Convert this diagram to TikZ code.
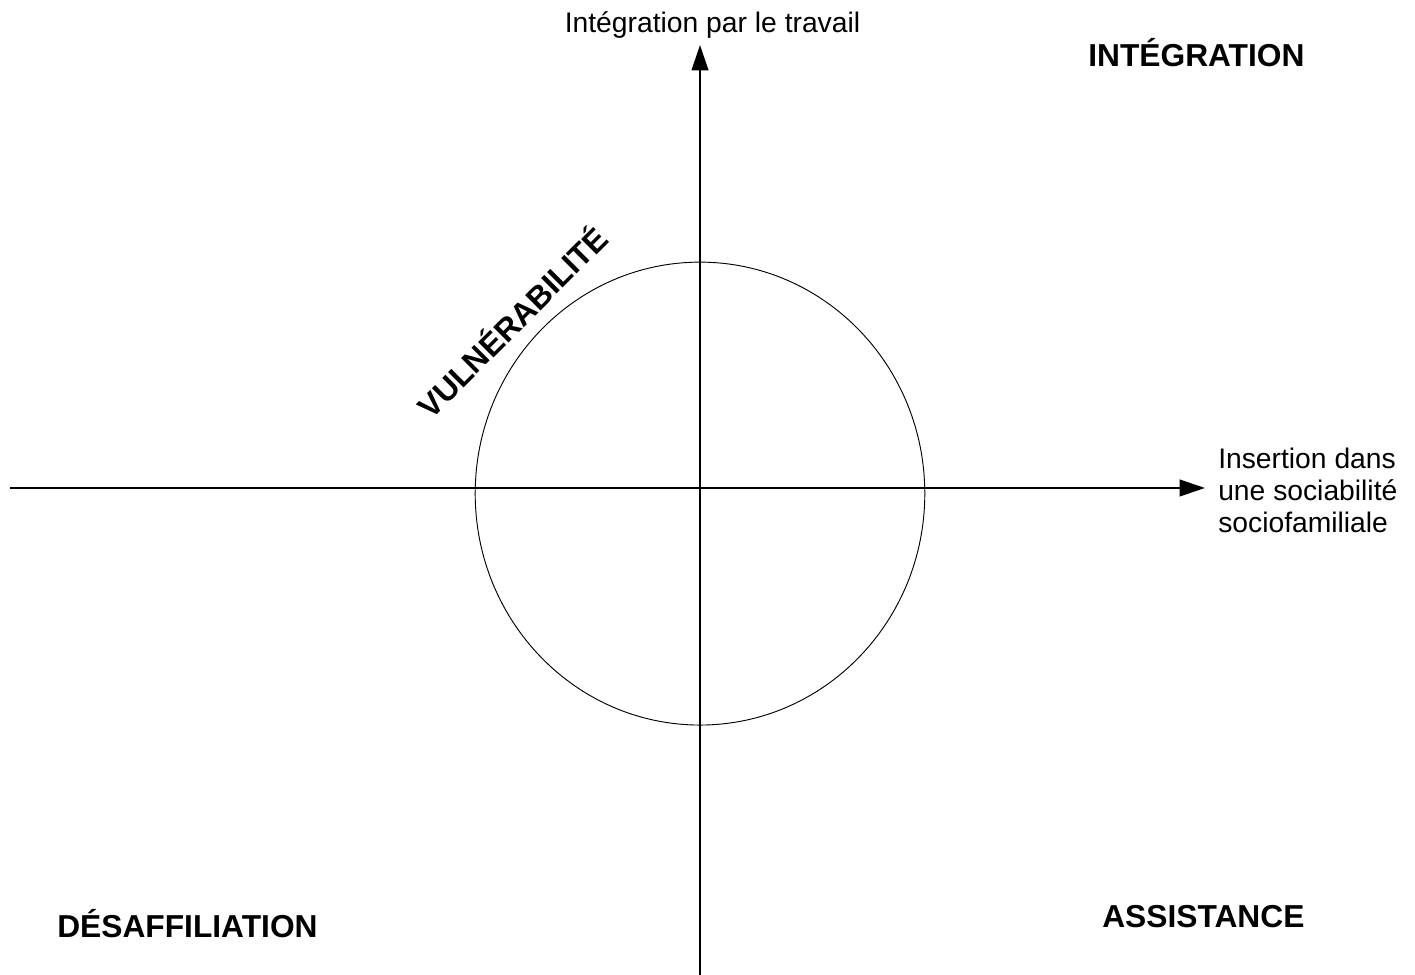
\documentclass[tikz,border=0pt]{standalone}
\usepackage{fontspec}
\setmainfont{Liberation Sans}
\usetikzlibrary{arrows.meta}
\tikzset{
  axisline/.style={line width=1.5pt, -{Triangle[length=19pt,width=12.5pt]}},
  ring/.style={line width=0.7pt},
  axislabel/.style={inner sep=0pt, font=\fontsize{21.2pt}{24pt}\selectfont},
  zonelabel/.style={inner sep=0pt, font=\fontsize{23.8pt}{27pt}\selectfont\bfseries},
}
\begin{document}
\begin{tikzpicture}[x=0.75pt,y=0.75pt]
\useasboundingbox (0,0) rectangle (1415,975);
% axes
\coordinate (xl) at (10,487);
\coordinate (xr) at (1205,487);
\coordinate (yb) at (700,0);
\coordinate (yt) at (700,930);
\coordinate (c) at (700,481.4);
\draw[axisline] (xl) -- (xr);
\draw[axisline] (yb) -- (yt);
% circle
\draw[ring] (c) ellipse [x radius=168.6pt, y radius=173.6pt];
% axis labels
\node[axislabel, anchor=base] (ylab) at (712.5,942) {Intégration par le travail};
\node[axislabel, anchor=base west, align=left] (xlab) at (1218,442) {Insertion dans\\une sociabilité\\sociofamiliale};
% zone labels
\node[zonelabel, anchor=base west] (integ) at (1088,908.3) {INTÉGRATION};
\node[zonelabel, anchor=base west] (assist) at (1102,47.7) {ASSISTANCE};
\node[zonelabel, anchor=base west] (desaff) at (57,37.7) {DÉSAFFILIATION};
\node[zonelabel, rotate=45] (vuln) at (511,654) {VULNÉRABILITÉ};
\end{tikzpicture}
\end{document}
